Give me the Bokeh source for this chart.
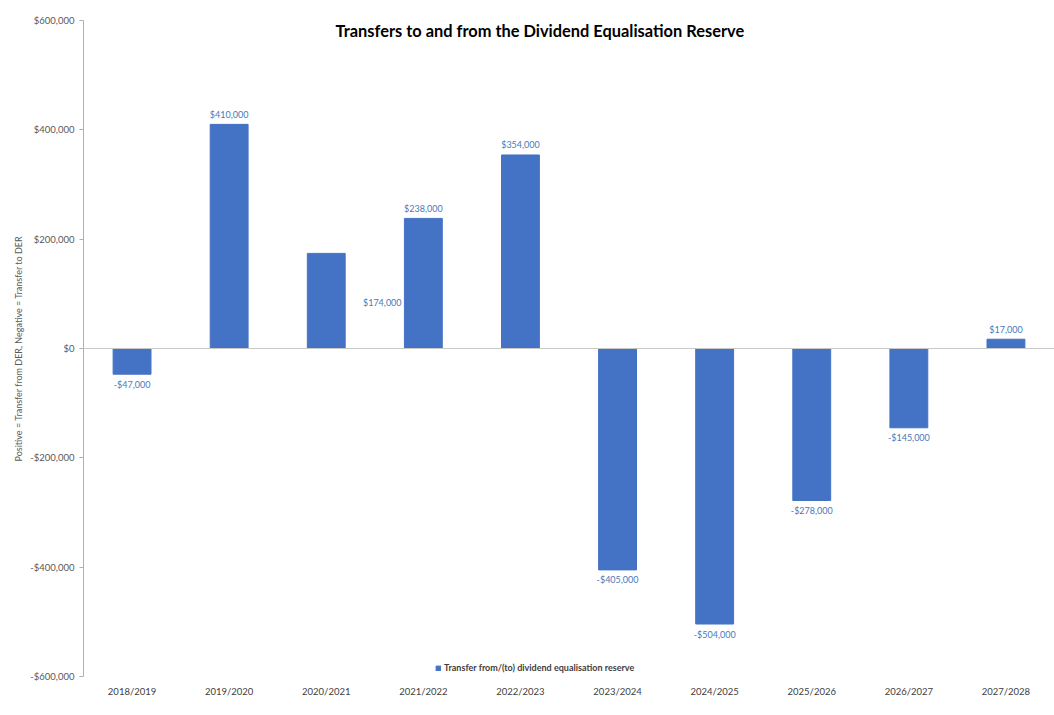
from bokeh.plotting import figure
from bokeh.models import ColumnDataSource, Label, Span, NumeralTickFormatter, FixedTicker, Legend, LegendItem
from bokeh.core.properties import value
from bokeh.embed import file_html
from bokeh.resources import INLINE

years = ["2018/2019", "2019/2020", "2020/2021", "2021/2022", "2022/2023",
         "2023/2024", "2024/2025", "2025/2026", "2026/2027", "2027/2028"]
transfers = [-47000, 410000, 174000, 238000, 354000,
             -405000, -504000, -278000, -145000, 17000]
y_ticks = [-600000, -400000, -200000, 0, 200000, 400000, 600000]

title_text = "Transfers to and from the Dividend Equalisation Reserve"
y_label = "Positive = Transfer from DER, Negative = Transfer to DER"
series_name = "Transfer from/(to) dividend equalisation reserve"

FONT = "Lato"
BAR = "#4472C4"
LABEL_COLOR = "#4a78b8"


def money(v):
    s = "${:,.0f}".format(abs(v))
    return "-" + s if v < 0 else s


labels = [money(v) for v in transfers]
# label placement: above positive bars, below negative; the 2020/2021 label sits off to the right
x_off = [0, 0, 56, 0, 0, 0, 0, 0, 0, 0]
y_off = [0, 0, 49, 0, 0, 0, 0, 0, 0, 0]
for i, v in enumerate(transfers):
    if i == 2:
        continue
    y_off[i] = -10 if v >= 0 else 10

src = ColumnDataSource(dict(x=years, top=transfers, label=labels, xo=x_off, yo=y_off))

p = figure(x_range=years, y_range=(-600000, 600000), frame_width=971, frame_height=656,
           output_backend="svg", toolbar_location=None,
           min_border_left=83, min_border_right=0, min_border_top=20, min_border_bottom=20)

r = p.vbar(x="x", top="top", width=0.39, source=src, color=BAR)
p.text(x="x", y="top", text="label", source=src, x_offset="xo", y_offset="yo",
       text_align="center", text_baseline="middle", text_font=value(FONT),
       text_font_size="9px", text_color=LABEL_COLOR)

p.add_layout(Span(location=0, dimension="width", line_color="#c8c8c8", line_width=1.2))

p.grid.visible = False
p.outline_line_color = None
p.background_fill_color = "white"
p.border_fill_color = "white"

p.yaxis.ticker = FixedTicker(ticks=y_ticks)
p.yaxis.formatter = NumeralTickFormatter(format="$0,0")
p.yaxis.axis_label = y_label
p.yaxis.axis_label_text_font = FONT
p.yaxis.axis_label_text_font_size = "9px"
p.yaxis.axis_label_text_font_style = "normal"
p.yaxis.axis_label_text_color = "#595959"
p.yaxis.axis_label_standoff = 3
p.yaxis.major_label_text_font = FONT
p.yaxis.major_label_text_font_size = "9.5px"
p.yaxis.major_label_text_color = "#595959"
p.yaxis.axis_line_color = "#b0b0b0"
p.yaxis.major_tick_line_color = "#b0b0b0"
p.yaxis.major_tick_in = 0
p.yaxis.major_tick_out = 4
p.yaxis.minor_tick_line_color = None

p.xaxis.axis_line_color = None
p.xaxis.major_tick_line_color = None
p.xaxis.minor_tick_line_color = None
p.xaxis.major_label_text_font = FONT
p.xaxis.major_label_text_font_size = "9.5px"
p.xaxis.major_label_text_color = "#404040"
p.xaxis.major_label_standoff = 3

p.add_layout(Label(x=4.7, y=582000, text=title_text, text_font=FONT, text_font_size="16.4px",
                   text_font_style="bold", text_align="center", text_baseline="middle",
                   text_color="#000000"))

legend = Legend(items=[LegendItem(label=series_name, renderers=[r])],
                orientation="horizontal", location=(352, 3),
                glyph_width=6, glyph_height=6, label_text_font=FONT,
                label_text_font_size="9px", label_text_font_style="bold",
                label_text_color="#404040", padding=0, margin=0, spacing=0,
                label_standoff=3, label_height=10, border_line_color=None,
                background_fill_alpha=0)
p.add_layout(legend, "center")

open("out.html", "w").write(file_html(p, INLINE))
